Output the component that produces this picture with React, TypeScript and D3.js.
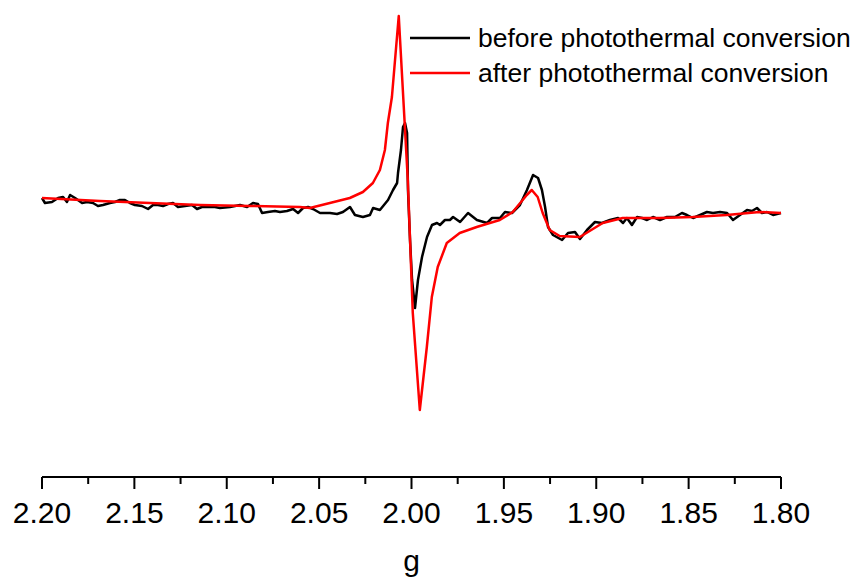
import React from "react";
import * as d3 from "d3";

const gTicks = [2.2, 2.15, 2.1, 2.05, 2.0, 1.95, 1.9, 1.85, 1.8];
const gMinorTicks = [2.175, 2.125, 2.075, 2.025, 1.975, 1.925, 1.875, 1.825];
const seriesNames = ["before photothermal conversion", "after photothermal conversion"];
const seriesColors = ["#000000", "#ff0000"];

const beforeG = [
  2.2, 2.1984, 2.1946, 2.1913, 2.1886, 2.1865, 2.1848, 2.1821, 2.1783, 2.1756, 2.1724, 2.1697, 2.167, 2.1632,
  2.1605, 2.1578, 2.1551, 2.1524, 2.1497, 2.1459, 2.1426, 2.1399, 2.1372, 2.1345, 2.1318, 2.1291, 2.1264,
  2.1226, 2.1188, 2.1161, 2.1134, 2.1101, 2.1064, 2.1037, 2.0982, 2.0928, 2.089, 2.0858, 2.0831, 2.0809,
  2.0777, 2.0739, 2.0712, 2.0674, 2.0641, 2.0614, 2.0587, 2.056, 2.0533, 2.0495, 2.0441, 2.0403, 2.0371,
  2.0333, 2.0306, 2.0263, 2.0225, 2.0208, 2.0171, 2.0127, 2.01, 2.0078, 2.0073, 2.0057, 2.0046, 2.0035,
  2.0024, 2.0019, 2.0008, 1.9997, 1.9981, 1.9965, 1.9943, 1.9916, 1.9889, 1.9862, 1.9846, 1.9819, 1.9792,
  1.9775, 1.9737, 1.9694, 1.9646, 1.9591, 1.9564, 1.9521, 1.9494, 1.9456, 1.9413, 1.9375, 1.9342, 1.9315,
  1.9294, 1.9277, 1.9261, 1.9234, 1.9185, 1.9153, 1.9115, 1.9088, 1.905, 1.9007, 1.8969, 1.8926, 1.8882,
  1.8855, 1.8834, 1.8807, 1.8779, 1.8752, 1.8725, 1.8693, 1.8655, 1.8617, 1.8574, 1.8536, 1.8509, 1.8476,
  1.8438, 1.8401, 1.8368, 1.833, 1.8292, 1.826, 1.8222, 1.8184, 1.8157, 1.813, 1.8103, 1.8076, 1.8043, 1.8,
];
const beforeI = [
  12, 7, 8, 12, 13, 8, 15, 12, 7, 8, 7, 4, 5, 7,
  8, 10, 10, 7, 5, 4, 1, 5, 5, 4, 6, 7, 3,
  4, 5, 1, 3, 3, 3, 2, 3, 5, 3, 7, 6, -3,
  -2, -1, -2, -1, 1, -3, 2, 3, 1, -3, -3, -4, -2,
  3, -5, -7, -5, 2, 0, 10, 20, 27, 37, 60, 83, 87,
  77, 20, -30, -70, -98, -70, -47, -27, -15, -13, -15, -10, -10,
  -7, -12, -3, -10, -13, -8, -8, -2, -3, 5, 20, 35, 32,
  20, 3, -17, -25, -30, -23, -22, -29, -20, -12, -13, -10, -8,
  -13, -8, -15, -7, -8, -10, -7, -10, -7, -7, -3, -5, -8,
  -5, -2, -3, -2, -3, -10, -5, 0, -1, 2, -3, -2, -5, -3,
];

const afterG = [
  2.2, 2.1686, 2.1416, 2.1145, 2.0875, 2.0604, 2.055, 2.0442, 2.0334, 2.0263, 2.0209, 2.0171, 2.0144,
  2.0128, 2.0106, 2.0069, 2.002, 1.9993, 1.9955, 1.9917, 1.989, 1.9858, 1.9809, 1.9739, 1.9647, 1.9576,
  1.9522, 1.9452, 1.9376, 1.9349, 1.9317, 1.929, 1.9252, 1.9198, 1.9089, 1.8965, 1.8857, 1.8657, 1.8478,
  1.8294, 1.8116, 1.8,
];
const afterI = [
  12, 9, 7, 5, 4, 3, 2, 7, 12, 18, 27, 40, 60,
  87, 113, 194, 30, -103, -200, -137, -87, -57, -33, -23, -17, -13,
  -10, -2, 15, 20, 13, -3, -20, -26, -27, -13, -8, -8, -7,
  -5, -2, -3,
];

const W = 856;
const H = 578;
const FONT = "'Liberation Sans', Arial, sans-serif";

export default function App() {
  const x = d3.scaleLinear().domain([2.2, 1.8]).range([42, 781]);
  const y = d3.scaleLinear().domain([-270, 210]).range([480, 0]);
  const axisY = 477;

  const line = d3
    .line<[number, number]>()
    .x((d) => x(d[0]))
    .y((d) => y(d[1]))
    .curve(d3.curveLinear);

  const before = beforeG.map((g, i) => [g, beforeI[i]] as [number, number]);
  const after = afterG.map((g, i) => [g, afterI[i]] as [number, number]);

  return (
    <svg
      width={W}
      height={H}
      style={{ position: "absolute", left: 0, top: 0, background: "#fff" }}
      fontFamily={FONT}
    >
      <path d={line(before) || ""} fill="none" stroke={seriesColors[0]} strokeWidth={2.5} strokeLinejoin="round" />
      <path d={line(after) || ""} fill="none" stroke={seriesColors[1]} strokeWidth={2.5} strokeLinejoin="round" />

      {/* axis */}
      <line x1={x(2.2)} x2={x(1.8)} y1={axisY} y2={axisY} stroke="#000" strokeWidth={2} />
      {gTicks.map((t) => (
        <g key={t}>
          <line x1={x(t)} x2={x(t)} y1={axisY} y2={axisY + 12} stroke="#000" strokeWidth={2} />
          <text x={x(t)} y={523} textAnchor="middle" fontSize={30} fill="#000">
            {t.toFixed(2)}
          </text>
        </g>
      ))}
      {gMinorTicks.map((t) => (
        <line key={t} x1={x(t)} x2={x(t)} y1={axisY} y2={axisY + 7} stroke="#000" strokeWidth={2} />
      ))}
      <text x={(x(2.2) + x(1.8)) / 2} y={571} textAnchor="middle" fontSize={30} fill="#000">
        g
      </text>

      {/* legend */}
      {seriesNames.map((n, i) => (
        <g key={n}>
          <line x1={410} x2={470} y1={38 + i * 35} y2={38 + i * 35} stroke={seriesColors[i]} strokeWidth={2.5} />
          <text x={478} y={47 + i * 35} fontSize={26.5} fill="#000">
            {n}
          </text>
        </g>
      ))}
    </svg>
  );
}
